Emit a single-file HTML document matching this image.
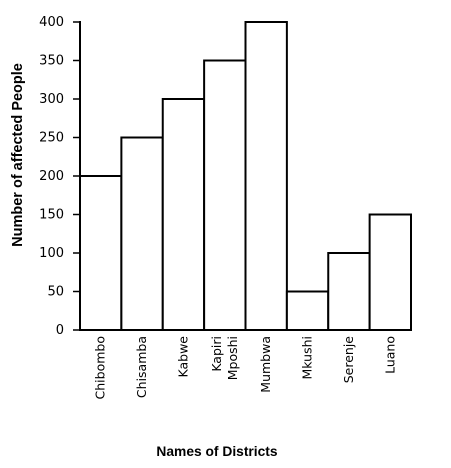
<!DOCTYPE html>
<html><head><meta charset="utf-8"><style>
html,body{margin:0;padding:0;background:#fff;}
svg{display:block;font-family:"DejaVu Sans","Liberation Sans",sans-serif;}
</style></head><body>
<svg id="chart" width="451" height="468" viewBox="0 0 451 468" xmlns="http://www.w3.org/2000/svg">
<g id="bars"></g>
<g id="yticks"></g>
<g id="xlabels"></g>
<line x1="80" y1="21" x2="80" y2="331" stroke="#000" stroke-width="2"/>
<line x1="79" y1="330" x2="412" y2="330" stroke="#000" stroke-width="2"/>
<text transform="translate(22,155) rotate(-90)" text-anchor="middle" font-size="14.5" font-weight="bold" font-family="Liberation Sans, sans-serif">Number of affected People</text>
<text x="217" y="456" text-anchor="middle" font-size="13.8" font-weight="bold" font-family="Liberation Sans, sans-serif">Names of Districts</text>
</svg>
<script>
const categories = ["Chibombo","Chisamba","Kabwe","Kapiri\nMposhi","Mumbwa","Mkushi","Serenje","Luano"];
const values = [200,250,300,350,400,50,100,150];
const yTicks = [0,50,100,150,200,250,300,350,400];
const ns = "http://www.w3.org/2000/svg";
const x0 = 80, x1 = 411, yTop = 22, yBase = 330, yMax = 400;
const bw = (x1 - x0) / categories.length;
const yScale = v => yBase - (v / yMax) * (yBase - yTop);
const xScale = i => x0 + i * bw;
const bars = document.getElementById('bars');
const xl = document.getElementById('xlabels');
categories.forEach((c, i) => {
  const r = document.createElementNS(ns, 'rect');
  
  
  r.setAttribute('x', xScale(i));
  r.setAttribute('y', yScale(values[i]));
  r.setAttribute('width', bw);
  r.setAttribute('height', yBase - yScale(values[i]));
  r.setAttribute('fill', '#fff');
  r.setAttribute('stroke', '#000');
  r.setAttribute('stroke-width', '2');
  bars.appendChild(r);
  const lines = c.split('\n');
  const cx = xScale(i) + bw / 2;
  lines.forEach((ln, k) => {
    const t = document.createElementNS(ns, 'text');
    
    
    const off = (k - (lines.length - 1) / 2) * 16 + 4;
    t.setAttribute('transform', `translate(${cx + off},336) rotate(-90)`);
    t.setAttribute('text-anchor', 'end');
    t.setAttribute('font-size', '12.5');
    t.textContent = ln;
    xl.appendChild(t);
  });
});
const yt = document.getElementById('yticks');
yTicks.forEach(v => {
  const y = yScale(v);
  const l = document.createElementNS(ns, 'line');
  
  
  l.setAttribute('x1', 73); l.setAttribute('x2', 80);
  l.setAttribute('y1', y); l.setAttribute('y2', y);
  l.setAttribute('stroke', '#000'); l.setAttribute('stroke-width', '1.5');
  yt.appendChild(l);
  const t = document.createElementNS(ns, 'text');
  
  
  t.setAttribute('x', 64); t.setAttribute('y', y + 4);
  t.setAttribute('text-anchor', 'end');
  t.setAttribute('font-size', '13');
  t.textContent = v;
  yt.appendChild(t);
});
</script>
</body></html>
